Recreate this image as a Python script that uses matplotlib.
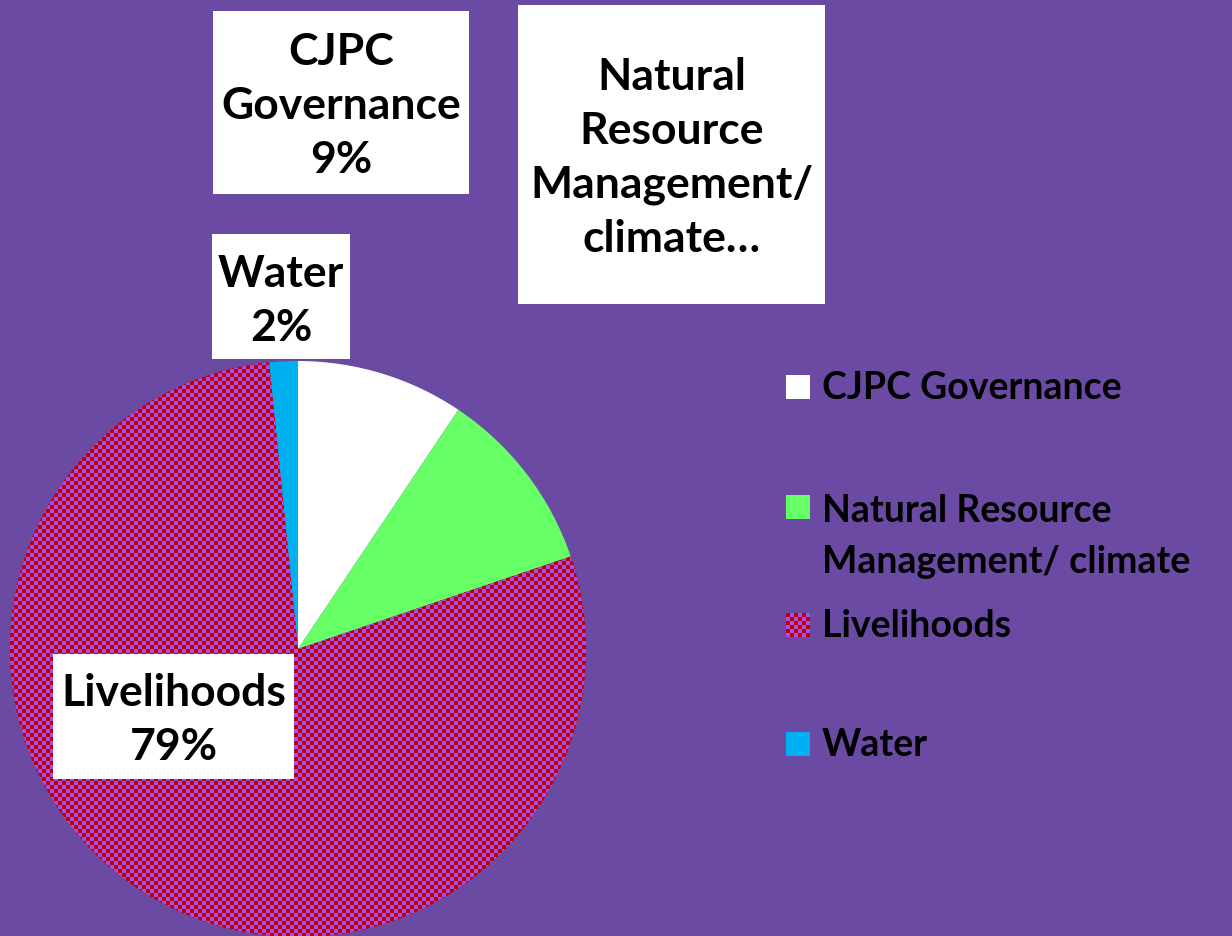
import matplotlib.pyplot as plt
import numpy as np
from matplotlib.colors import ListedColormap
from matplotlib.patches import Rectangle

# data
categories = ['CJPC Governance', 'Natural Resource\nManagement/ climate', 'Livelihoods', 'Water']
shares = [9.4, 10.4, 78.6, 1.6]
box_labels = ['CJPC\nGovernance\n9%', 'Natural\nResource\nManagement/\nclimate…',
              'Livelihoods\n79%', 'Water\n2%']
colors = ['#ffffff', '#66ff66', '#c00000', '#00b0f0']
checker_colors = ['#c00000', '#a050f0']

plt.rcParams['font.family'] = ['Lato', 'DejaVu Sans']

W, H = 1232, 937
fig = plt.figure(figsize=(W / 100, H / 100), dpi=100)
fig.patch.set_facecolor('#6a4aa2')
ax = fig.add_axes([0, 0, 1, 1])
ax.set_facecolor('none')

# pie, centre/radius in pixel units (y measured from bottom)
cx, cy, r = 298, H - 650, 288
wedges, _ = ax.pie(shares, colors=colors, startangle=90, counterclock=False,
                   center=(cx, cy), radius=r,
                   wedgeprops=dict(linewidth=0))

# checkerboard fill for Livelihoods (4 px cells)
n = int(2 * r / 4)
board = np.add.outer(np.arange(n), np.arange(n)) % 2
im = ax.imshow(board, cmap=ListedColormap(checker_colors), interpolation='nearest',
               extent=(cx - r, cx + r, cy - r, cy + r), zorder=wedges[2].get_zorder() + 0.1)
im.set_clip_path(wedges[2])

# data labels in white boxes (box: left, top, right, bottom in px from top-left)
label_boxes = [(213, 12, 469, 195), (518, 6, 825, 305), (53, 655, 294, 780), (212, 235, 350, 360)]
label_centre_y = [106, 158, 720, 301]
for txt, (x0, y0, x1, y1), yc in zip(box_labels, label_boxes, label_centre_y):
    ax.add_patch(Rectangle((x0, H - y1), x1 - x0, y1 - y0, fc='white', ec='none', zorder=4))
    ax.text((x0 + x1) / 2, H - yc, txt, ha='center', va='center', fontsize=32,
            fontweight='bold', linespacing=1.42, color='black', zorder=5)

# legend
leg_y = [388, 508, 626, 745]
for cat, col, y in zip(categories, colors, leg_y):
    sq = Rectangle((786, H - y - 12), 24, 24, fc=col, ec='none', zorder=5)
    ax.add_patch(sq)
    if cat == 'Livelihoods':
        b = np.add.outer(np.arange(6), np.arange(6)) % 2
        ax.imshow(b, cmap=ListedColormap(checker_colors), interpolation='nearest',
                  extent=(786, 810, H - y - 12, H - y + 12), zorder=6)
    ax.text(822, H - y + (14 if '\n' in cat else 0), cat, ha='left',
            va='top' if '\n' in cat else 'center',
            fontsize=27, fontweight='bold', linespacing=1.6, color='black', zorder=5)

ax.set_xlim(0, W)
ax.set_ylim(0, H)
ax.set_aspect('equal')
ax.axis('off')

fig.savefig('out.png', dpi=100, facecolor=fig.get_facecolor())
